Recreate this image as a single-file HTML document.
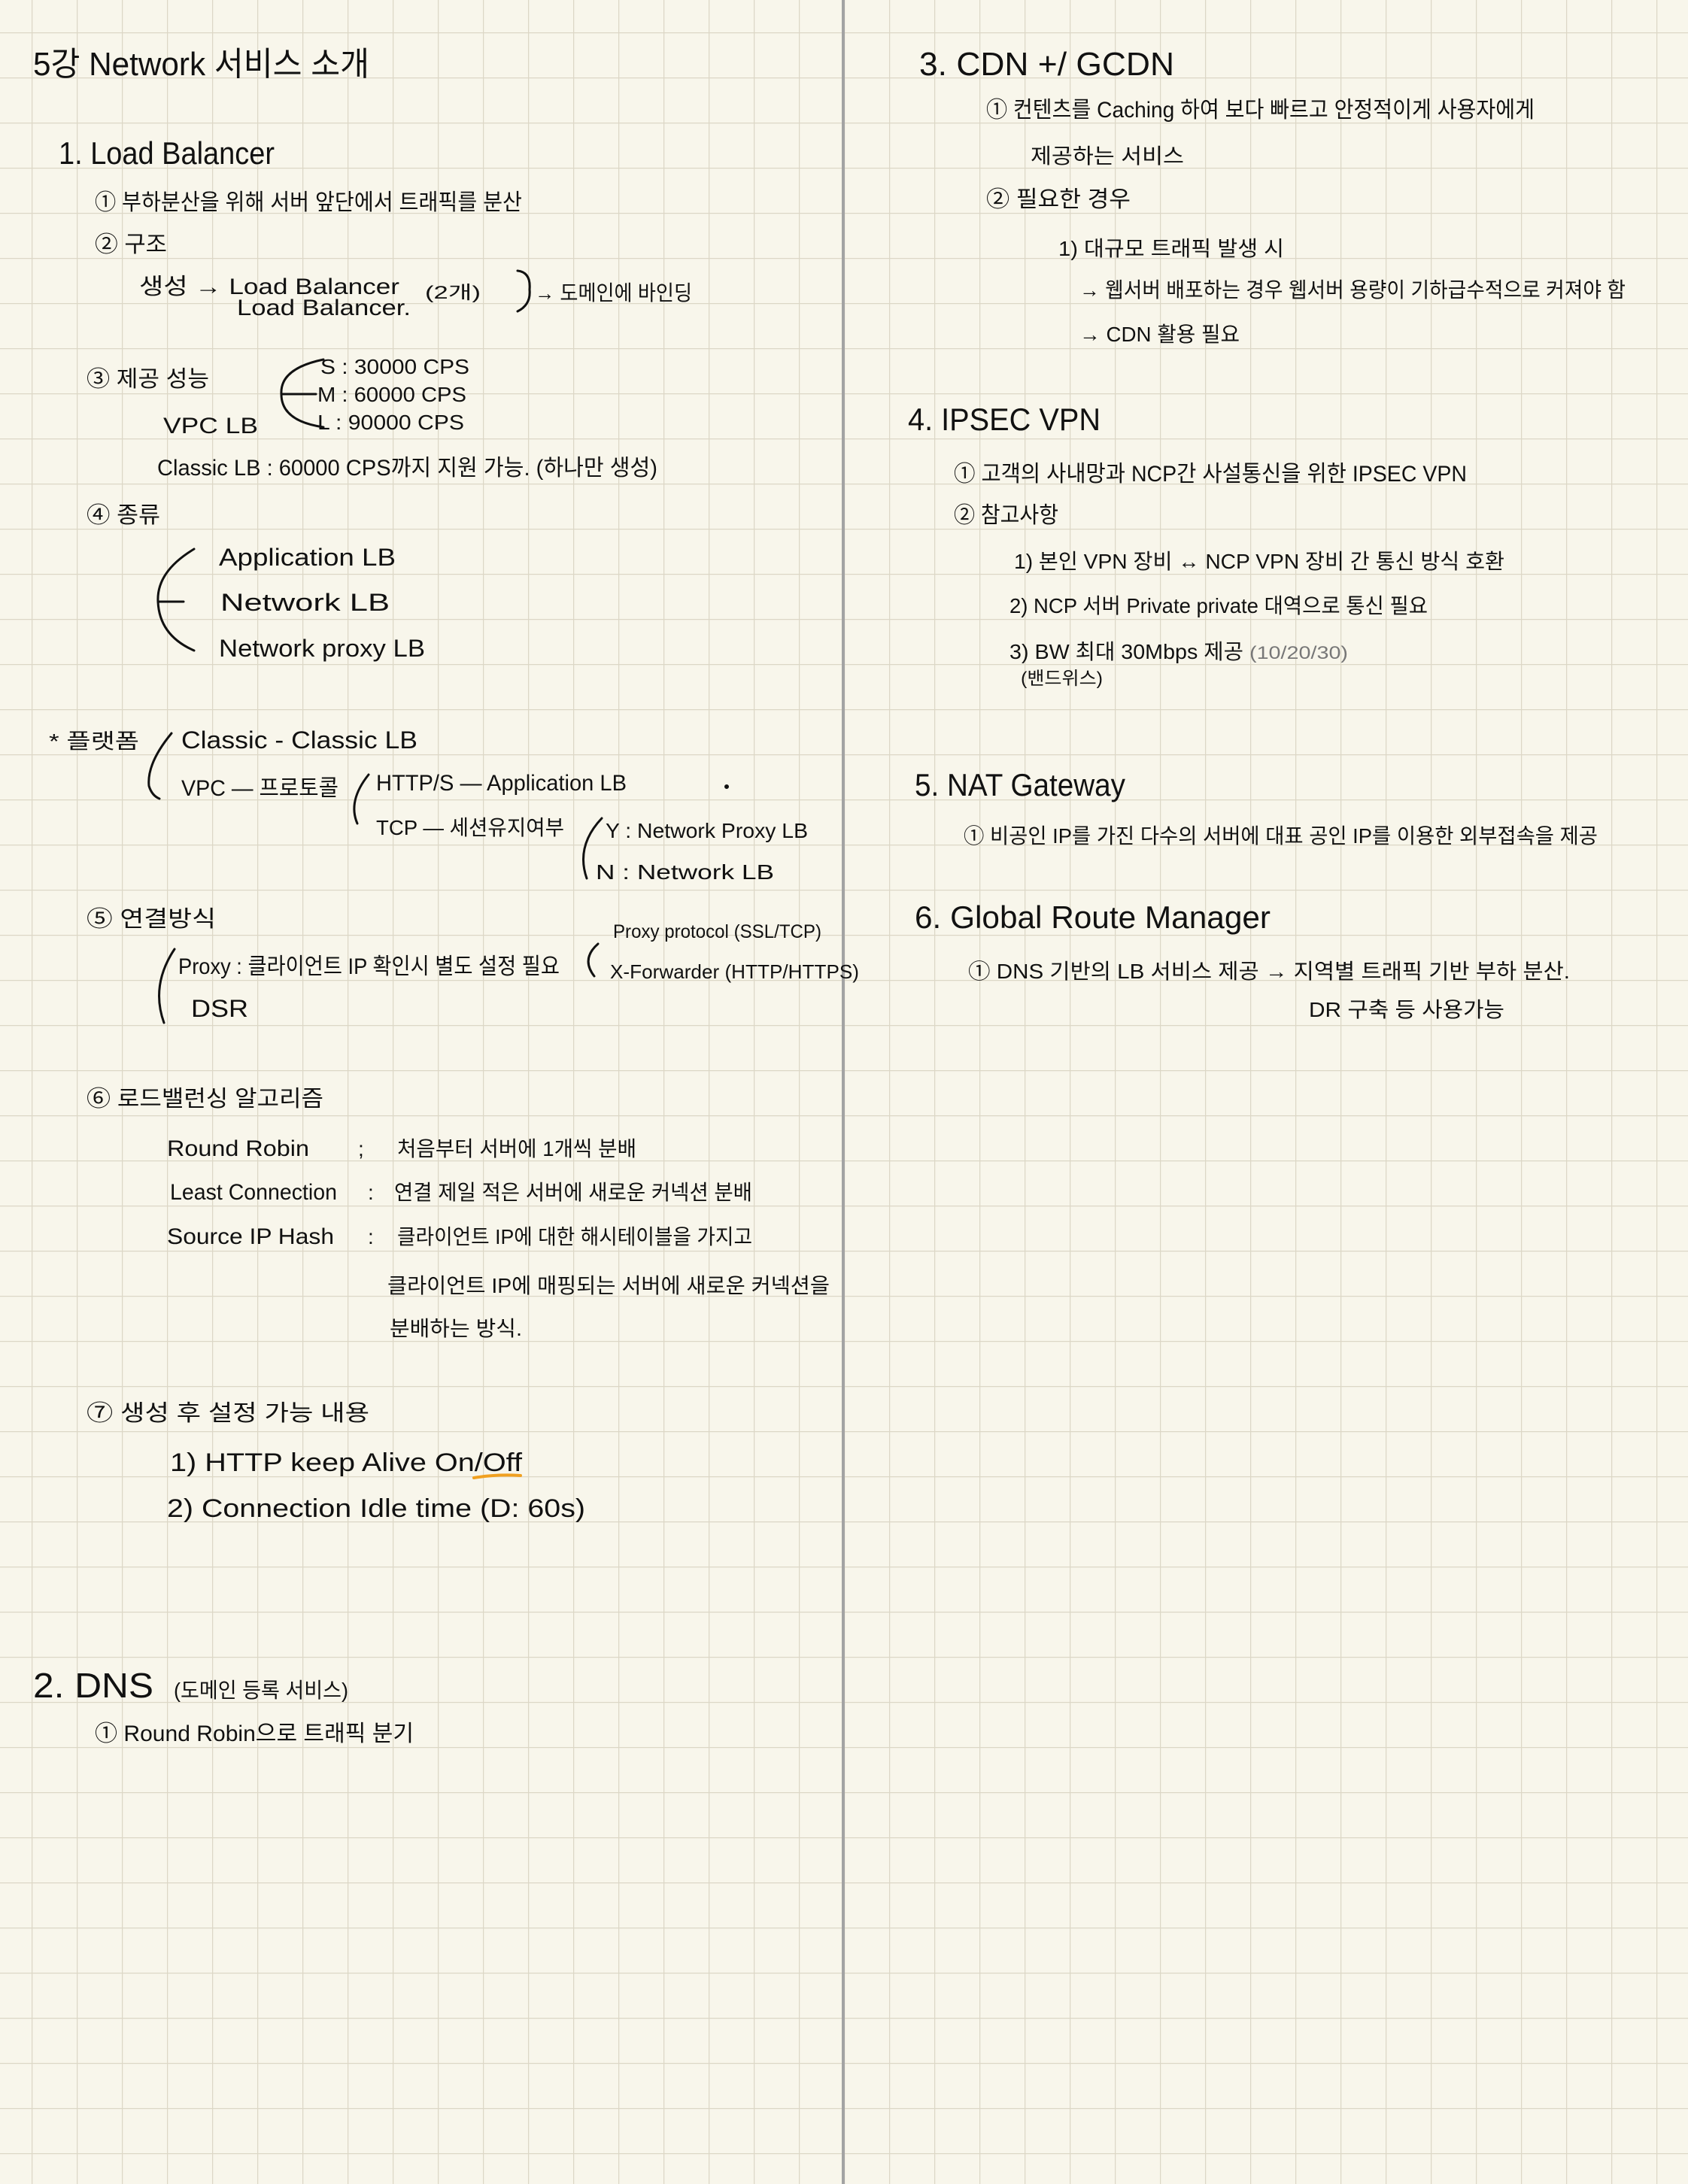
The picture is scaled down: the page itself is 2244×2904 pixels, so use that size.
<!DOCTYPE html>
<html><head><meta charset="utf-8"><style>
html,body{margin:0;padding:0;background:#f8f6eb;}
svg{display:block}
text{font-family:"Liberation Sans","Noto Sans CJK KR",sans-serif;fill:#111;}
</style></head><body>
<svg width="2244" height="2904" viewBox="0 0 2244 2904" xmlns="http://www.w3.org/2000/svg">
<defs>
<pattern id="g" x="42" y="43" width="60" height="60" patternUnits="userSpaceOnUse">
<path d="M0 0H60M0 0V60" stroke="#dcd7c6" stroke-width="2.5" fill="none"/>
</pattern>
</defs>
<rect width="2244" height="2904" fill="#f8f6eb"/>
<rect width="2244" height="2904" fill="url(#g)"/>
<rect x="1119" y="0" width="4" height="2904" fill="#a3a3a3"/>

<g lengthAdjust="spacingAndGlyphs">
<text x="44" y="100" font-size="44" textLength="447" lengthAdjust="spacingAndGlyphs">5강  Network 서비스 소개</text>
<text x="78" y="218" font-size="42" textLength="287" lengthAdjust="spacingAndGlyphs">1. Load Balancer</text>
<text x="126" y="279" font-size="30" textLength="568" lengthAdjust="spacingAndGlyphs">① 부하분산을 위해 서버 앞단에서 트래픽를 분산</text>
<text x="126" y="335" font-size="30" textLength="96" lengthAdjust="spacingAndGlyphs">② 구조</text>
<text x="185" y="391" font-size="30" textLength="346" lengthAdjust="spacingAndGlyphs">생성 →  Load Balancer</text>
<text x="315" y="419" font-size="30" textLength="231" lengthAdjust="spacingAndGlyphs">Load Balancer.</text>
<text x="565" y="397" font-size="24" textLength="74" lengthAdjust="spacingAndGlyphs">(2개)</text>
<text x="711" y="399" font-size="28" textLength="209" lengthAdjust="spacingAndGlyphs">→ 도메인에 바인딩</text>
<text x="115" y="514" font-size="30" textLength="163" lengthAdjust="spacingAndGlyphs">③ 제공 성능</text>
<text x="217" y="576" font-size="30" textLength="126" lengthAdjust="spacingAndGlyphs">VPC  LB</text>
<text x="426" y="497" font-size="28" textLength="198" lengthAdjust="spacingAndGlyphs">S : 30000 CPS</text>
<text x="422" y="534" font-size="28" textLength="198" lengthAdjust="spacingAndGlyphs">M : 60000 CPS</text>
<text x="422" y="571" font-size="28" textLength="195" lengthAdjust="spacingAndGlyphs">L : 90000 CPS</text>
<text x="209" y="632" font-size="30" textLength="665" lengthAdjust="spacingAndGlyphs">Classic  LB  :  60000 CPS까지 지원 가능. (하나만 생성)</text>
<text x="115" y="695" font-size="30" textLength="98" lengthAdjust="spacingAndGlyphs">④ 종류</text>
<text x="291" y="752" font-size="32" textLength="235" lengthAdjust="spacingAndGlyphs">Application  LB</text>
<text x="293" y="812" font-size="32" textLength="225" lengthAdjust="spacingAndGlyphs">Network  LB</text>
<text x="291" y="873" font-size="32" textLength="274" lengthAdjust="spacingAndGlyphs">Network proxy LB</text>
<text x="65" y="995" font-size="28" textLength="120" lengthAdjust="spacingAndGlyphs">* 플랫폼</text>
<text x="241" y="995" font-size="32" textLength="314" lengthAdjust="spacingAndGlyphs">Classic  -  Classic LB</text>
<text x="241" y="1058" font-size="30" textLength="209" lengthAdjust="spacingAndGlyphs">VPC  —  프로토콜</text>
<text x="500" y="1051" font-size="30" textLength="333" lengthAdjust="spacingAndGlyphs">HTTP/S — Application LB</text>
<text x="500" y="1110" font-size="28" textLength="250" lengthAdjust="spacingAndGlyphs">TCP — 세션유지여부</text>
<text x="805" y="1114" font-size="28" textLength="269" lengthAdjust="spacingAndGlyphs">Y : Network Proxy LB</text>
<text x="792" y="1169" font-size="28" textLength="237" lengthAdjust="spacingAndGlyphs">N : Network  LB</text>
<text x="115" y="1232" font-size="30" textLength="172" lengthAdjust="spacingAndGlyphs">⑤ 연결방식</text>
<text x="237" y="1295" font-size="30" textLength="507" lengthAdjust="spacingAndGlyphs">Proxy  :  클라이언트 IP 확인시 별도 설정 필요</text>
<text x="254" y="1352" font-size="32" textLength="76" lengthAdjust="spacingAndGlyphs">DSR</text>
<text x="815" y="1247" font-size="25" textLength="277" lengthAdjust="spacingAndGlyphs">Proxy protocol (SSL/TCP)</text>
<text x="811" y="1301" font-size="26" textLength="331" lengthAdjust="spacingAndGlyphs">X-Forwarder (HTTP/HTTPS)</text>
<text x="115" y="1471" font-size="30" textLength="315" lengthAdjust="spacingAndGlyphs">⑥ 로드밸런싱 알고리즘</text>
<text x="222" y="1537" font-size="30" textLength="189" lengthAdjust="spacingAndGlyphs">Round  Robin</text>
<text x="476" y="1537" font-size="28">;</text>
<text x="528" y="1537" font-size="28" textLength="318" lengthAdjust="spacingAndGlyphs">처음부터 서버에 1개씩 분배</text>
<text x="226" y="1595" font-size="30" textLength="222" lengthAdjust="spacingAndGlyphs">Least  Connection</text>
<text x="489" y="1595" font-size="28">:</text>
<text x="524" y="1595" font-size="28" textLength="476" lengthAdjust="spacingAndGlyphs">연결 제일 적은 서버에 새로운 커넥션 분배</text>
<text x="222" y="1654" font-size="30" textLength="222" lengthAdjust="spacingAndGlyphs">Source  IP Hash</text>
<text x="489" y="1654" font-size="28">:</text>
<text x="528" y="1654" font-size="28" textLength="472" lengthAdjust="spacingAndGlyphs">클라이언트 IP에 대한 해시테이블을 가지고</text>
<text x="515" y="1719" font-size="28" textLength="588" lengthAdjust="spacingAndGlyphs">클라이언트 IP에 매핑되는 서버에 새로운 커넥션을</text>
<text x="518" y="1776" font-size="28" textLength="176" lengthAdjust="spacingAndGlyphs">분배하는 방식.</text>
<text x="115" y="1889" font-size="30" textLength="376" lengthAdjust="spacingAndGlyphs">⑦ 생성 후 설정 가능 내용</text>
<text x="226" y="1956" font-size="34" textLength="468" lengthAdjust="spacingAndGlyphs">1)  HTTP keep Alive On/Off</text>
<text x="222" y="2017" font-size="34" textLength="556" lengthAdjust="spacingAndGlyphs">2)  Connection  Idle time (D: 60s)</text>
<text x="44" y="2257" font-size="46" textLength="160" lengthAdjust="spacingAndGlyphs">2. DNS</text>
<text x="231" y="2257" font-size="28" textLength="232" lengthAdjust="spacingAndGlyphs">(도메인 등록 서비스)</text>
<text x="126" y="2315" font-size="30" textLength="424" lengthAdjust="spacingAndGlyphs">① Round Robin으로 트래픽 분기</text>

<text x="1222" y="100" font-size="44" textLength="339" lengthAdjust="spacingAndGlyphs">3.  CDN +/ GCDN</text>
<text x="1311" y="156" font-size="30" textLength="729" lengthAdjust="spacingAndGlyphs">① 컨텐츠를 Caching 하여 보다 빠르고 안정적이게 사용자에게</text>
<text x="1370" y="217" font-size="28" textLength="204" lengthAdjust="spacingAndGlyphs">제공하는 서비스</text>
<text x="1311" y="275" font-size="30" textLength="192" lengthAdjust="spacingAndGlyphs">② 필요한 경우</text>
<text x="1407" y="340" font-size="28" textLength="300" lengthAdjust="spacingAndGlyphs">1) 대규모 트래픽 발생 시</text>
<text x="1435" y="395" font-size="28" textLength="726" lengthAdjust="spacingAndGlyphs">→ 웹서버 배포하는 경우 웹서버 용량이 기하급수적으로 커져야 함</text>
<text x="1435" y="454" font-size="28" textLength="213" lengthAdjust="spacingAndGlyphs">→ CDN 활용 필요</text>
<text x="1207" y="572" font-size="42" textLength="256" lengthAdjust="spacingAndGlyphs">4. IPSEC VPN</text>
<text x="1268" y="640" font-size="30" textLength="682" lengthAdjust="spacingAndGlyphs">① 고객의 사내망과 NCP간 사설통신을 위한 IPSEC VPN</text>
<text x="1268" y="695" font-size="30" textLength="139" lengthAdjust="spacingAndGlyphs">② 참고사항</text>
<text x="1348" y="756" font-size="28" textLength="652" lengthAdjust="spacingAndGlyphs">1) 본인 VPN 장비 ↔ NCP VPN 장비 간 통신 방식 호환</text>
<text x="1342" y="815" font-size="28" textLength="556" lengthAdjust="spacingAndGlyphs">2) NCP 서버 Private private 대역으로 통신 필요</text>
<text x="1342" y="876" font-size="28" textLength="311" lengthAdjust="spacingAndGlyphs">3) BW 최대 30Mbps 제공</text>
<text x="1661" y="876" font-size="24" textLength="131" lengthAdjust="spacingAndGlyphs" style="fill:#777">(10/20/30)</text>
<text x="1357" y="910" font-size="24" textLength="109" lengthAdjust="spacingAndGlyphs">(밴드위스)</text>
<text x="1216" y="1058" font-size="42" textLength="280" lengthAdjust="spacingAndGlyphs">5. NAT Gateway</text>
<text x="1281" y="1121" font-size="28" textLength="843" lengthAdjust="spacingAndGlyphs">① 비공인 IP를 가진 다수의 서버에 대표 공인 IP를 이용한 외부접속을 제공</text>
<text x="1216" y="1234" font-size="42" textLength="473" lengthAdjust="spacingAndGlyphs">6. Global Route Manager</text>
<text x="1287" y="1301" font-size="28" textLength="800" lengthAdjust="spacingAndGlyphs">① DNS 기반의 LB 서비스 제공 → 지역별 트래픽 기반 부하 분산.</text>
<text x="1740" y="1352" font-size="28" textLength="260" lengthAdjust="spacingAndGlyphs">DR 구축 등  사용가능</text>
</g>

<g fill="none" stroke="#111" stroke-width="3" stroke-linecap="round">
<path d="M688 360 Q706 362 704 385 Q706 405 688 414"/>
<path d="M430 478 Q372 490 374 524 Q374 560 430 568"/>
<path d="M374 524 H420"/>
<path d="M258 730 Q208 760 210 800 Q212 845 258 865"/>
<path d="M210 800 H244"/>
<path d="M228 975 Q195 1015 198 1045 Q202 1058 212 1062"/>
<path d="M490 1030 Q462 1065 475 1095"/>
<path d="M800 1088 Q765 1125 780 1168"/>
<path d="M232 1262 Q200 1310 218 1360"/>
<path d="M795 1255 Q772 1275 790 1298"/>
<circle cx="966" cy="1046" r="1.5" fill="#111"/>
</g>
<path d="M630 1965 Q660 1960 692 1962" stroke="#f0a020" stroke-width="4" fill="none" stroke-linecap="round"/>
</svg>
</body></html>
